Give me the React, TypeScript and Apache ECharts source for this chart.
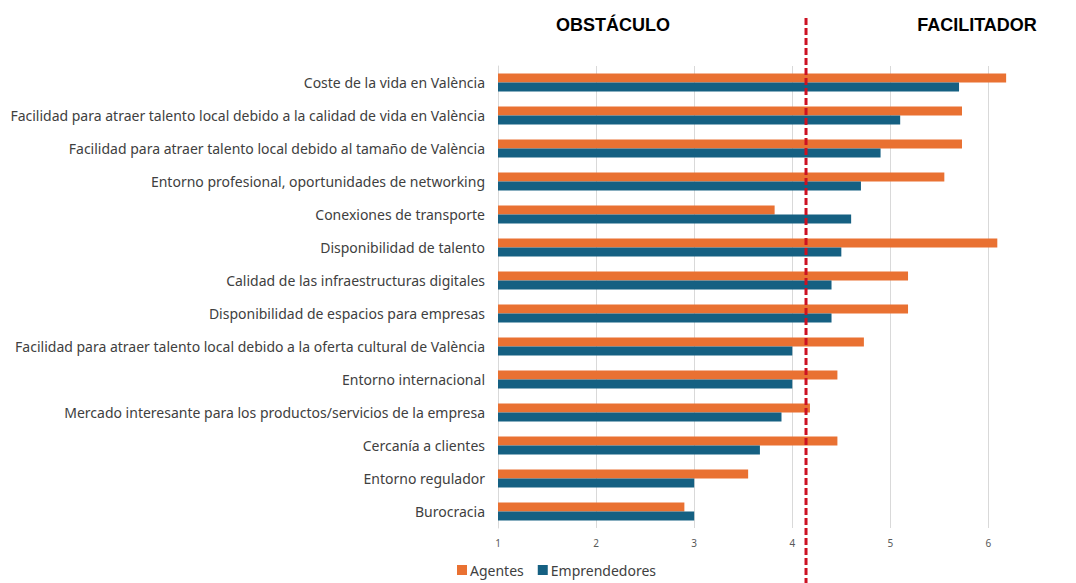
import React, { useEffect, useRef } from "react";
import * as echarts from "echarts";

const categories = [
  "Coste de la vida en València",
  "Facilidad para atraer talento local debido a la calidad de vida en València",
  "Facilidad para atraer talento local debido al tamaño de València",
  "Entorno profesional, oportunidades de networking",
  "Conexiones de transporte",
  "Disponibilidad de talento",
  "Calidad de las infraestructuras digitales",
  "Disponibilidad de espacios para empresas",
  "Facilidad para atraer talento local debido a la oferta cultural de València",
  "Entorno internacional",
  "Mercado interesante para los productos/servicios de la empresa",
  "Cercanía a clientes",
  "Entorno regulador",
  "Burocracia",
];

const agentes = [6.18, 5.73, 5.73, 5.55, 3.82, 6.09, 5.18, 5.18, 4.73, 4.46, 4.18, 4.46, 3.55, 2.9];
const emprendedores = [5.7, 5.1, 4.9, 4.7, 4.6, 4.5, 4.4, 4.4, 4.0, 4.0, 3.89, 3.67, 3.0, 3.0];

const seriesNames = ["Agentes", "Emprendedores"];
const xMin = 1;
const xMax = 6.25;
const xInterval = 1;
const threshold = 4.14;
const headerLeft = "OBSTÁCULO";
const headerRight = "FACILITADOR";

const ORANGE = "#E97132";
const BLUE = "#156082";

export default function App() {
  const ref = useRef<HTMLDivElement>(null);

  useEffect(() => {
    if (!ref.current) return;
    const chart = echarts.init(ref.current, null, { renderer: "svg" });
    chart.setOption({
      animation: false,
      backgroundColor: "#ffffff",
      textStyle: { fontFamily: "Noto Sans" },
      grid: { left: 498, top: 66, width: 515, height: 462, containLabel: false },
      legend: {
        data: seriesNames,
        left: 452,
        top: 558,
        itemWidth: 10,
        itemHeight: 10,
        itemGap: 14,
        icon: "rect",
        textStyle: { color: "#404040", fontSize: 14, fontFamily: "Noto Sans", padding: [0, 0, 0, -2] },
      },
      xAxis: {
        type: "value",
        min: xMin,
        max: xMax,
        interval: xInterval,
        axisLine: { show: false },
        axisTick: { show: false },
        splitLine: { show: true, showMaxLine: false, lineStyle: { color: "#d9d9d9", width: 1 } },
        axisLabel: {
          color: "#595959",
          fontSize: 10,
          margin: 10,
          fontFamily: "Noto Sans",
          showMaxLabel: false,
          formatter: (v: number) => (Number.isInteger(v) ? String(v) : ""),
        },
      },
      yAxis: {
        type: "category",
        data: categories,
        inverse: true,
        axisTick: { show: false },
        axisLine: { show: true, lineStyle: { color: "#d9d9d9", width: 1 } },
        axisLabel: { color: "#404040", fontSize: 14, margin: 13, fontFamily: "Noto Sans" },
      },
      series: [
        {
          name: seriesNames[0],
          type: "bar",
          data: agentes,
          barWidth: 9,
          barGap: "0%",
          clip: true,
          itemStyle: { color: ORANGE },
        },
        {
          name: seriesNames[1],
          type: "bar",
          data: emprendedores,
          barWidth: 9,
          barGap: "0%",
          clip: true,
          itemStyle: { color: BLUE },
        },
      ],
    });

    const tx = chart.convertToPixel({ xAxisIndex: 0 }, threshold) as number;
    chart.setOption({
      graphic: [
        {
          type: "line",
          z: 100,
          shape: { x1: tx, y1: 18, x2: tx, y2: 583 },
          style: { stroke: "#CC1122", lineWidth: 3, lineDash: [7, 3] },
        },
        {
          type: "text",
          x: 613,
          y: 25,
          style: {
            text: headerLeft,
            fill: "#000000",
            font: "bold 18px 'Liberation Sans', Arial, sans-serif",
            textAlign: "center",
            textVerticalAlign: "middle",
          },
        },
        {
          type: "text",
          x: 977,
          y: 25,
          style: {
            text: headerRight,
            fill: "#000000",
            font: "bold 18px 'Liberation Sans', Arial, sans-serif",
            textAlign: "center",
            textVerticalAlign: "middle",
          },
        },
      ],
    });

    return () => chart.dispose();
  }, []);

  return (
    <div
      ref={ref}
      style={{ position: "fixed", left: 0, top: 0, width: 1076, height: 583, background: "#ffffff" }}
    />
  );
}
